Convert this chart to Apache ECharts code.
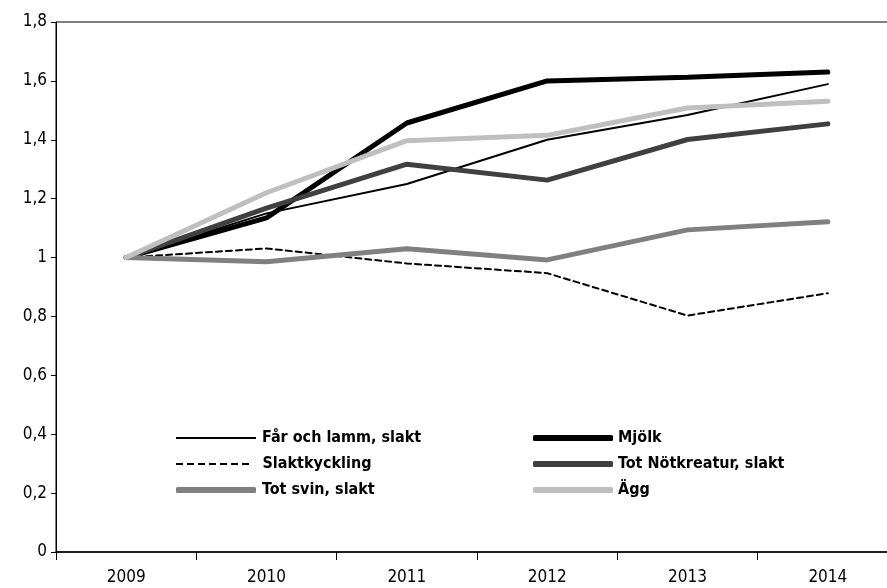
<!DOCTYPE html>
<html><head><meta charset="utf-8">
<script src="https://cdn.jsdelivr.net/npm/echarts@6/dist/echarts.min.js"></script>
<style>html,body{margin:0;padding:0;background:#fff}#c{width:887px;height:588px}</style>
</head><body><div id="c"></div>
<script>
var years = ['2009','2010','2011','2012','2013','2014'];
var farLamm = [1, 1.15, 1.25, 1.40, 1.484, 1.589];
var mjolk = [1, 1.135, 1.457, 1.60, 1.612, 1.630];
var slaktkyckling = [1, 1.031, 0.98, 0.947, 0.803, 0.879];
var notkreatur = [1, 1.168, 1.317, 1.263, 1.401, 1.454];
var svin = [1, 0.986, 1.030, 0.992, 1.094, 1.122];
var agg = [1, 1.220, 1.397, 1.415, 1.508, 1.531];
var yTicks = ['0','0,2','0,4','0,6','0,8','1','1,2','1,4','1,6','1,8'];

var FONT = '"DejaVu Sans Condensed","Liberation Sans Narrow",sans-serif';
function ser(name, data, color, width, type) {
  return {name: name, type: 'line', data: data, symbol: 'none', smooth: false,
    lineStyle: {color: color, width: width, type: type || 'solid', cap: 'round'},
    itemStyle: {color: color}, emphasis: {disabled: true}};
}
var dashPath = 'path://M0 0h7v2h-7zM11 0h7v2h-7zM22 0h7v2h-7zM33 0h7v2h-7zM44 0h7v2h-7zM55 0h7v2h-7zM66 0h7v2h-7z';
function leg(name, left, top, icon, h, pad) {
  return {orient: 'vertical', left: left, top: top, itemWidth: 80, itemHeight: h, itemGap: 0,
    selectedMode: false, icon: icon,
    textStyle: {fontFamily: FONT, fontWeight: 'bold', fontSize: 16, color: '#000', padding: [0,0,0,pad]},
    data: [name]};
}
var rowY = [435, 461, 487];
var chart = echarts.init(document.getElementById('c'));
chart.setOption({
  animation: false,
  grid: {left: 56, top: 22, right: -11, bottom: 36, outerBoundsMode: 'none', containLabel: false,
    show: true, borderColor: '#000', borderWidth: 1, backgroundColor: 'transparent'},
  legend: [
    leg('Får och lamm, slakt', 171, rowY[0] - 10, 'rect', 2, 1),
    leg('Slaktkyckling', 171, rowY[1] - 10, dashPath, 2, 5),
    leg('Tot svin, slakt', 171, rowY[2] - 10, 'roundRect', 6, 1),
    leg('Mjölk', 528, rowY[0] - 10, 'roundRect', 6, 0),
    leg('Tot Nötkreatur, slakt', 528, rowY[1] - 10, 'roundRect', 6, 0),
    leg('Ägg', 528, rowY[2] - 10, 'roundRect', 6, 0)
  ],
  xAxis: {type: 'category', data: years, boundaryGap: true,
    axisLine: {lineStyle: {color: '#000', width: 1.5}},
    axisTick: {show: true, length: 8, lineStyle: {color: '#000'}},
    axisLabel: {fontFamily: FONT, fontSize: 17, color: '#000', margin: 17}},
  yAxis: {type: 'value', min: 0, max: 1.8, interval: 0.2,
    axisLine: {show: true, lineStyle: {color: '#000'}},
    axisTick: {show: true, length: 5, lineStyle: {color: '#000'}},
    splitLine: {show: false},
    axisLabel: {fontFamily: FONT, fontSize: 17, color: '#000', margin: 9,
      formatter: function (v) { return yTicks[Math.round(v / 0.2)]; }}},
  series: [
    ser('Får och lamm, slakt', farLamm, '#000', 2),
    ser('Mjölk', mjolk, '#000', 5),
    ser('Slaktkyckling', slaktkyckling, '#000', 2, [6, 4]),
    ser('Tot Nötkreatur, slakt', notkreatur, '#404040', 5),
    ser('Tot svin, slakt', svin, '#808080', 5),
    ser('Ägg', agg, '#bfbfbf', 5)
  ]
});
</script></body></html>
